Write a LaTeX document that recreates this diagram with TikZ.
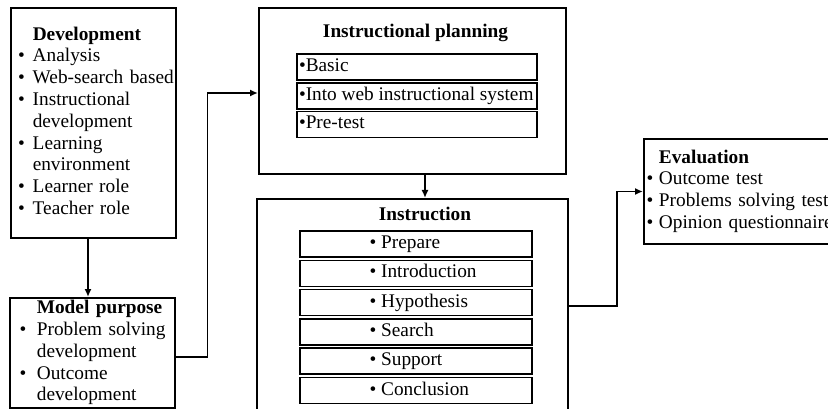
\documentclass[tikz,border=0pt]{standalone}
\usepackage{fontspec}
\setmainfont{Liberation Serif}
\usetikzlibrary{positioning,calc,arrows.meta}

\newcommand{\diagfont}{\fontsize{19.3}{21.8}\selectfont}

\tikzset{
  every node/.style={font=\diagfont},
  block/.style={draw, line width=2pt, inner sep=0pt},
  listbox/.style={block, align=left, anchor=north west},
  title/.style={font=\diagfont\bfseries, inner sep=0pt},
  item/.style={draw, line width=1.6pt, inner sep=0pt, minimum height=26pt,
    text height=13pt, text depth=4pt},
  link/.style={line width=1.8pt, -{Latex[length=8pt,width=7pt]}},
}

\begin{document}
\begin{tikzpicture}[x=1pt,y=-1pt]
\useasboundingbox (0,0) rectangle (828,409);

% Development
\node[listbox, inner xsep=7pt, text width=151pt, minimum height=230pt] (dev) at (10,7) {%
  \begin{tabular}{@{}l@{\hspace{8pt}}l@{}}
   & \textbf{Development}\\
  \textbullet & Analysis\\
  \textbullet & Web-search based\\
  \textbullet & Instructional\\
   & development\\
  \textbullet & Learning\\
   & environment\\
  \textbullet & Learner role\\
  \textbullet & Teacher role
  \end{tabular}};

% Model purpose
\node[listbox, inner xsep=9.6pt, text width=145.8pt, minimum height=110pt] (mp) at (9,297) {%
  \begin{tabular}{@{}l@{\hspace{10.5pt}}l@{}}
   & \textbf{Model purpose}\\
  \textbullet & Problem solving\\
   & development\\
  \textbullet & Outcome\\
   & development
  \end{tabular}};

% Instructional planning
\node[block, minimum width=307pt, minimum height=166pt, anchor=north west] (plan) at (258,7) {};
\node[title, anchor=base] (plantitle) at (415.5,38) {Instructional planning};
\node[item] (basic) at (417,67) {\makebox[240pt][l]{\hspace{2pt}\textbullet Basic}};
\node[item] (web) at (417,96) {\makebox[240pt][l]{\hspace{2pt}\textbullet Into web instructional system}};
\node[item] (pretest) at (417,124.5) {\makebox[240pt][l]{\hspace{2pt}\textbullet Pre-test}};

% Instruction
\node[block, minimum width=311pt, minimum height=214pt, anchor=north west] (inst) at (256,198) {};
\node[title, anchor=base] (insttitle) at (425,220) {Instruction};
\foreach \name/\txt [count=\i from 0] in {prep/Prepare, intro/Introduction, hyp/Hypothesis,
    search/Search, support/Support, concl/Conclusion}
  \node[item] (\name) at (416,244+29.3*\i) {\makebox[232pt][l]{\hspace{69.6pt}\textbullet{} \txt}};

% Evaluation
\node[listbox, inner xsep=2.6pt, text width=190pt, minimum height=105pt] (eval) at (643,138) {%
  \begin{tabular}{@{}l@{\hspace{5.6pt}}l@{}}
   & \textbf{Evaluation}\\
  \textbullet & Outcome test\\
  \textbullet & Problems solving test\\
  \textbullet & Opinion questionnaire
  \end{tabular}};

% Connectors
\coordinate (d1) at ($(dev.south)+(-5.5,0)$);
\draw[link] (d1) -- (d1 |- mp.north);
\coordinate (m1) at ($(mp.east)+(0,4)$);
\coordinate (p1) at ($(plan.west)+(0,2)$);
\draw[link] (m1) -- ++(31.5,0) |- (p1);
\draw[link] (plan.south -| insttitle) -- (inst.north -| insttitle);
\draw[link] (inst.east) -- ++(48,0) |- (eval.west);
\end{tikzpicture}
\end{document}
